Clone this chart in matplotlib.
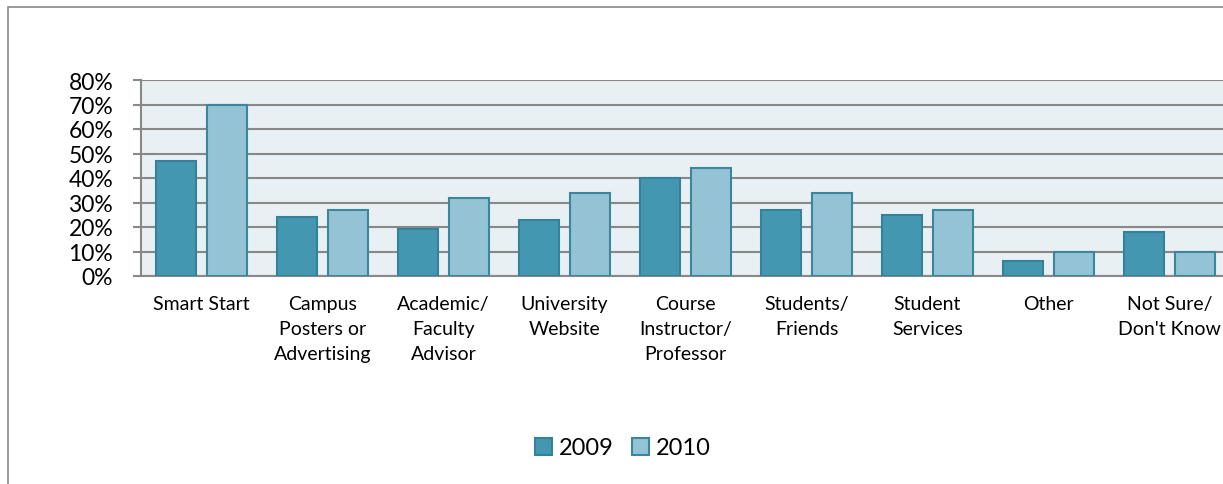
import matplotlib.pyplot as plt
import matplotlib.patches as mpatches
import numpy as np

# survey categories and share of respondents per year
categories = ["Smart Start", "Campus\nPosters or\nAdvertising", "Academic/\nFaculty\nAdvisor",
              "University\nWebsite", "Course\nInstructor/\nProfessor", "Students/\nFriends",
              "Student\nServices", "Other", "Not Sure/\nDon't Know"]
vals_2009 = [47, 24, 19, 23, 40, 27, 25, 6, 18]
vals_2010 = [70, 27, 32, 34, 44, 34, 27, 10, 10]
yticks = [0, 10, 20, 30, 40, 50, 60, 70, 80]

plt.rcParams['font.family'] = ['Lato', 'DejaVu Sans']

c09, e09 = '#4397b0', '#34819a'
c10, e10 = '#94c3d5', '#3a869d'
grid_c = '#888888'

fig = plt.figure(figsize=(12.23, 4.85), dpi=100)
# outer chart frame (cut off at right and bottom like the source)
fig.patches.append(mpatches.Rectangle((7.5 / 1223, -0.1), 1.2, 1 - 8 / 485 + 0.1,
                                      transform=fig.transFigure, fill=False,
                                      edgecolor=grid_c, linewidth=1.2))

ax = fig.add_axes([141 / 1223, 1 - 277 / 485, (1230 - 141) / 1223, (277 - 81) / 485])
ax.set_facecolor('#e8f0f4')

x = np.arange(len(categories))
w = 0.335
off = 0.21
ax.bar(x - off, vals_2009, w, color=c09, edgecolor=e09, linewidth=1.5, zorder=3, label='2009')
ax.bar(x + off, vals_2010, w, color=c10, edgecolor=e10, linewidth=1.5, zorder=3, label='2010')

ax.set_xlim(-0.5, len(categories) - 0.5)
ax.set_ylim(0, 80)
ax.set_yticks(yticks)
ax.set_yticklabels([f"{v}%" for v in yticks], fontsize=16.5)
ax.set_xticks(x)
ax.set_xticklabels(categories, fontsize=14, linespacing=1.55, va='top')
ax.tick_params(axis='x', length=0, pad=14)
ax.tick_params(axis='y', length=6, width=1.5, color=grid_c, pad=14)
ax.yaxis.grid(True, color=grid_c, linewidth=1.5, zorder=1)
ax.set_axisbelow(True)
for s in ['top', 'right']:
    ax.spines[s].set_visible(False)
for s in ['left', 'bottom']:
    ax.spines[s].set_color(grid_c)
    ax.spines[s].set_linewidth(1.5)

h1 = mpatches.Patch(facecolor=c09, edgecolor=e09, linewidth=1.5, label='2009')
h2 = mpatches.Patch(facecolor=c10, edgecolor=e10, linewidth=1.5, label='2010')
fig.legend(handles=[h1, h2], loc='center', bbox_to_anchor=(623 / 1223, 1 - 449 / 485),
           ncol=2, frameon=False, fontsize=17, handlelength=0.7, handleheight=0.7,
           handletextpad=0.3, columnspacing=0.8)

fig.savefig('out.png', dpi=100)
